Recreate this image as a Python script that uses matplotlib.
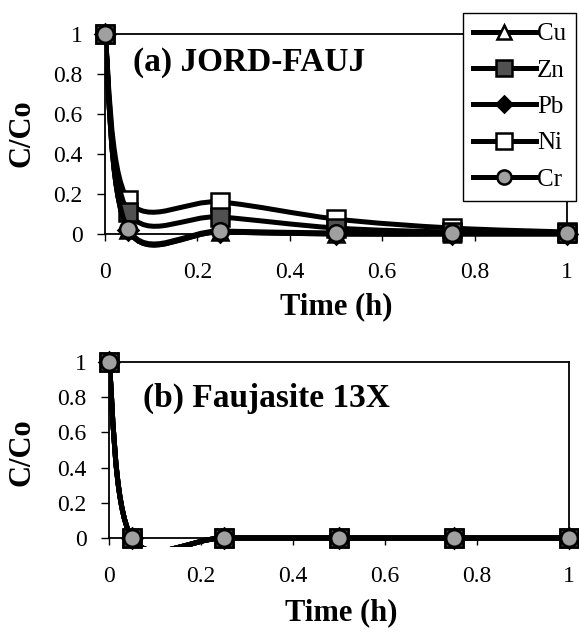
import numpy as np
import matplotlib
matplotlib.use("Agg")
import matplotlib.pyplot as plt
from matplotlib.path import Path
from matplotlib.patches import PathPatch
from matplotlib.lines import Line2D

plt.rcParams['font.family'] = ['Liberation Serif', 'DejaVu Serif']

# время отбора проб, ч
time_h = [0, 0.05, 0.25, 0.5, 0.75, 1]

# (a) JORD-FAUJ, C/Co
a_cu = [1, 0.02, 0.01, 0.0, 0.0, 0.0]
a_zn = [1, 0.11, 0.085, 0.03, 0.01, 0.005]
a_pb = [1, 0.02, 0.01, 0.0, 0.0, 0.0]
a_ni = [1, 0.17, 0.16, 0.075, 0.03, 0.01]
a_cr = [1, 0.025, 0.015, 0.005, 0.005, 0.005]

# (b) Faujasite 13X, C/Co
b_cu = [1, 0, 0, 0, 0, 0]
b_zn = [1, 0, 0, 0, 0, 0]
b_pb = [1, 0, 0, 0, 0, 0]
b_ni = [1, 0, 0, 0, 0, 0]
b_cr = [1, 0, 0, 0, 0, 0]

metals = ["Cu", "Zn", "Pb", "Ni", "Cr"]
ticks = [0, 0.2, 0.4, 0.6, 0.8, 1]
tick_labels = ["0", "0.2", "0.4", "0.6", "0.8", "1"]

styles = {
    "Cu": dict(marker="^", mfc="white", ms=12, z=3),
    "Zn": dict(marker="s", mfc="#505050", ms=13, z=4),
    "Pb": dict(marker="D", mfc="black", ms=10, z=3.5),
    "Ni": dict(marker="s", mfc="white", ms=13, z=2),
    "Cr": dict(marker="o", mfc="#a0a0a0", ms=12, z=5),
}


# сглаженная линия как в Excel (кривые Безье)
def smooth_path(x, y):
    x = np.asarray(x, float)
    y = np.asarray(y, float)
    n = len(x)
    verts = [(x[0], y[0])]
    codes = [Path.MOVETO]
    for i in range(n - 1):
        i0 = max(i - 1, 0)
        i3 = min(i + 2, n - 1)
        c1 = (x[i] + (x[i + 1] - x[i0]) / 6, y[i] + (y[i + 1] - y[i0]) / 6)
        c2 = (x[i + 1] - (x[i3] - x[i]) / 6, y[i + 1] - (y[i3] - y[i]) / 6)
        verts += [c1, c2, (x[i + 1], y[i + 1])]
        codes += [Path.CURVE4] * 3
    return Path(verts, codes)


def draw_panel(ax, series, ymin, title, title_xy):
    for name, vals in zip(metals, series):
        st = styles[name]
        patch = PathPatch(smooth_path(time_h, vals), fill=False, lw=3.6,
                          edgecolor="black", zorder=st["z"])
        ax.add_patch(patch)
        ax.plot(time_h, vals, linestyle="none", marker=st["marker"], ms=st["ms"],
                mfc=st["mfc"], mec="black", mew=1.8, clip_on=False, zorder=st["z"] + 0.1)
    ax.set_xlim(0, 1)
    ax.set_ylim(ymin, 1)
    ax.spines["bottom"].set_position(("data", 0))
    ax.spines["left"].set_bounds(0, 1)
    ax.spines["right"].set_bounds(0, 1)
    for s in ax.spines.values():
        s.set_linewidth(1.3)
    ax.set_xticks(ticks)
    ax.set_xticklabels(tick_labels)
    ax.set_yticks(ticks)
    ax.set_yticklabels(tick_labels)
    ax.tick_params(axis="x", direction="out", length=5, width=1, pad=15, labelsize=17)
    ax.tick_params(axis="y", direction="out", length=6, width=1, pad=10, labelsize=17)
    ax.text(title_xy[0], title_xy[1], title, transform=ax.transAxes,
            fontsize=24, fontweight="bold", va="center", ha="left")


fig = plt.figure(figsize=(5.79, 6.32), dpi=100)
ax1 = fig.add_axes([0.1813, 0.6076, 0.798, 0.3386])
ax2 = fig.add_axes([0.1883, 0.1348, 0.794, 0.2924])

draw_panel(ax1, [a_cu, a_zn, a_pb, a_ni, a_cr], -0.07, "(a) JORD-FAUJ", (0.06, 0.869))
draw_panel(ax2, [b_cu, b_zn, b_pb, b_ni, b_cr], -0.05, "(b) Faujasite 13X", (0.074, 0.805))

for ax_y, xl_y, x_c in [(0.79, 1 - 307 / 632, 336 / 579), (0.285, 1 - 613 / 632, 341 / 579)]:
    fig.text(22 / 579, ax_y, "C/Co", rotation=90, fontsize=22, fontweight="bold",
             ha="center", va="center")
    fig.text(x_c, xl_y, "Time (h)", fontsize=22, fontweight="bold",
             ha="center", va="center")

handles = []
for name in metals:
    st = styles[name]
    handles.append(Line2D([], [], color="black", lw=3.6, marker=st["marker"],
                          ms=st["ms"] * 0.85, mfc=st["mfc"], mec="black", mew=1.8))
leg = fig.legend(handles, metals, loc="upper left", bbox_to_anchor=(463 / 579, 1 - 13 / 632),
                 bbox_transform=fig.transFigure, borderaxespad=0, fontsize=18,
                 handlelength=2.5, handletextpad=0.05, labelspacing=0.55,
                 borderpad=0.4, fancybox=False, framealpha=1, edgecolor="black")
leg.get_frame().set_linewidth(1.0)

fig.savefig("out.png", dpi=100)
